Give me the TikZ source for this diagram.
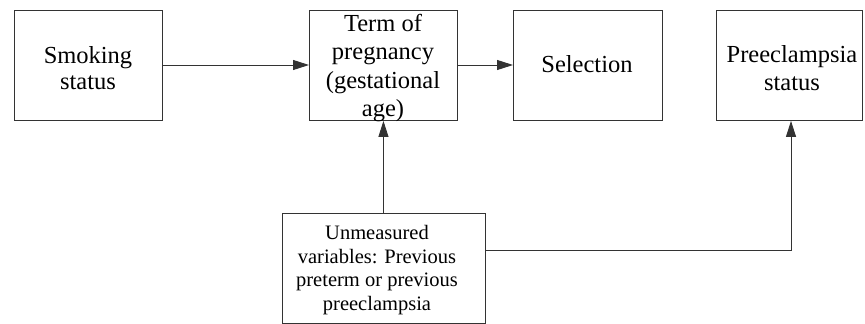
\documentclass[tikz,border=0pt]{standalone}
\usepackage{fontspec}
\setmainfont{Liberation Serif}
\usetikzlibrary{arrows.meta}
\begin{document}
\begin{tikzpicture}[x=1pt,y=-1pt,
  boxx/.style={draw=black!80,line width=0.9pt,inner sep=0pt,anchor=north west},
  bigtxt/.style={align=center,font=\fontsize{24.5}{28.5}\selectfont,inner sep=0pt},
  smalltxt/.style={align=center,font=\fontsize{20.5}{23.4}\selectfont,inner sep=0pt},
  conn/.style={draw=black!80,line width=0.9pt},
  arr/.style={conn,-{Triangle[length=16pt,width=10pt]}}]
\useasboundingbox (0,0) rectangle (865,324);
\node[boxx,minimum width=148pt,minimum height=110pt] (smk) at (14,10) {};
\node[boxx,minimum width=148pt,minimum height=110pt] (term) at (309,10) {};
\node[boxx,minimum width=149pt,minimum height=110pt] (sel) at (513,10) {};
\node[boxx,minimum width=146pt,minimum height=110pt] (pre) at (716,10) {};
\node[boxx,minimum width=203pt,minimum height=110pt] (unm) at (282,213) {};
\node[bigtxt,font=\fontsize{24.5}{26}\selectfont] (smkt) at (88,68) {Smoking\\status};
\node[bigtxt] (termt) at (383,68) {Term of\\pregnancy\\(gestational\\age)};
\node[bigtxt] (selt) at (587,64) {Selection};
\node[bigtxt] (pret) at (792,68) {Preeclampsia\\status};
\node[smalltxt] (unmt) at (377,270) {Unmeasured\\variables: Previous\\preterm or previous\\preeclampsia};
\draw[arr] (smk.east |- 0,65) -- (term.west |- 0,65);
\draw[arr] (term.east |- 0,65) -- (sel.west |- 0,65);
\draw[arr] (unm.north -| term.south) -- (term.south);
\coordinate (corner) at (791,250);
\draw[arr] (unm.east |- corner) -- (corner) -- (corner |- pre.south);
\end{tikzpicture}
\end{document}
